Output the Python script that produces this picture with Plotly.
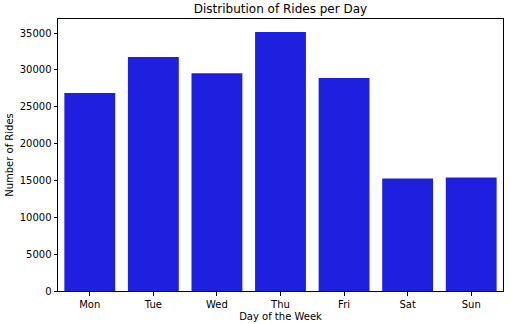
import plotly.graph_objects as go

days = ["Mon", "Tue", "Wed", "Thu", "Fri", "Sat", "Sun"]
rides = [26850, 31750, 29550, 35150, 28900, 15270, 15400]

fig = go.Figure(go.Bar(x=days, y=rides, marker_color="#1f1fe0", marker_line_width=0, width=0.8))

font = "DejaVu Sans, sans-serif"
fig.update_layout(
    width=511, height=324,
    margin=dict(l=58, r=8, t=19, b=33),
    plot_bgcolor="white", paper_bgcolor="white",
    font=dict(family=font, size=10, color="#000000"),
    title=dict(text="Distribution of Rides per Day", x=0.5, xref="paper", xanchor="center",
               y=1, yref="container", yanchor="top", pad=dict(t=5),
               font=dict(size=12, family=font, color="#000000")),
    showlegend=False,
    bargap=0.2,
)
fig.update_xaxes(
    range=[-0.5, 6.5], showline=True, linecolor="#000000", linewidth=1, mirror=True,
    ticks="outside", ticklen=3.5, tickcolor="#000000", showgrid=False, automargin=False,
    ticklabelstandoff=0,
    title=dict(text="Day of the Week", standoff=4, font=dict(size=10)),
)
fig.update_yaxes(
    range=[0, 36908], showline=True, linecolor="#000000", linewidth=1, mirror=True,
    ticks="outside", ticklen=3.5, tickcolor="#000000", showgrid=False, automargin=False,
    tickvals=[0, 5000, 10000, 15000, 20000, 25000, 30000, 35000],
    tickformat="d", zeroline=False,
    title=dict(text="Number of Rides", standoff=4, font=dict(size=10)),
)
fig.write_html("out.html")
